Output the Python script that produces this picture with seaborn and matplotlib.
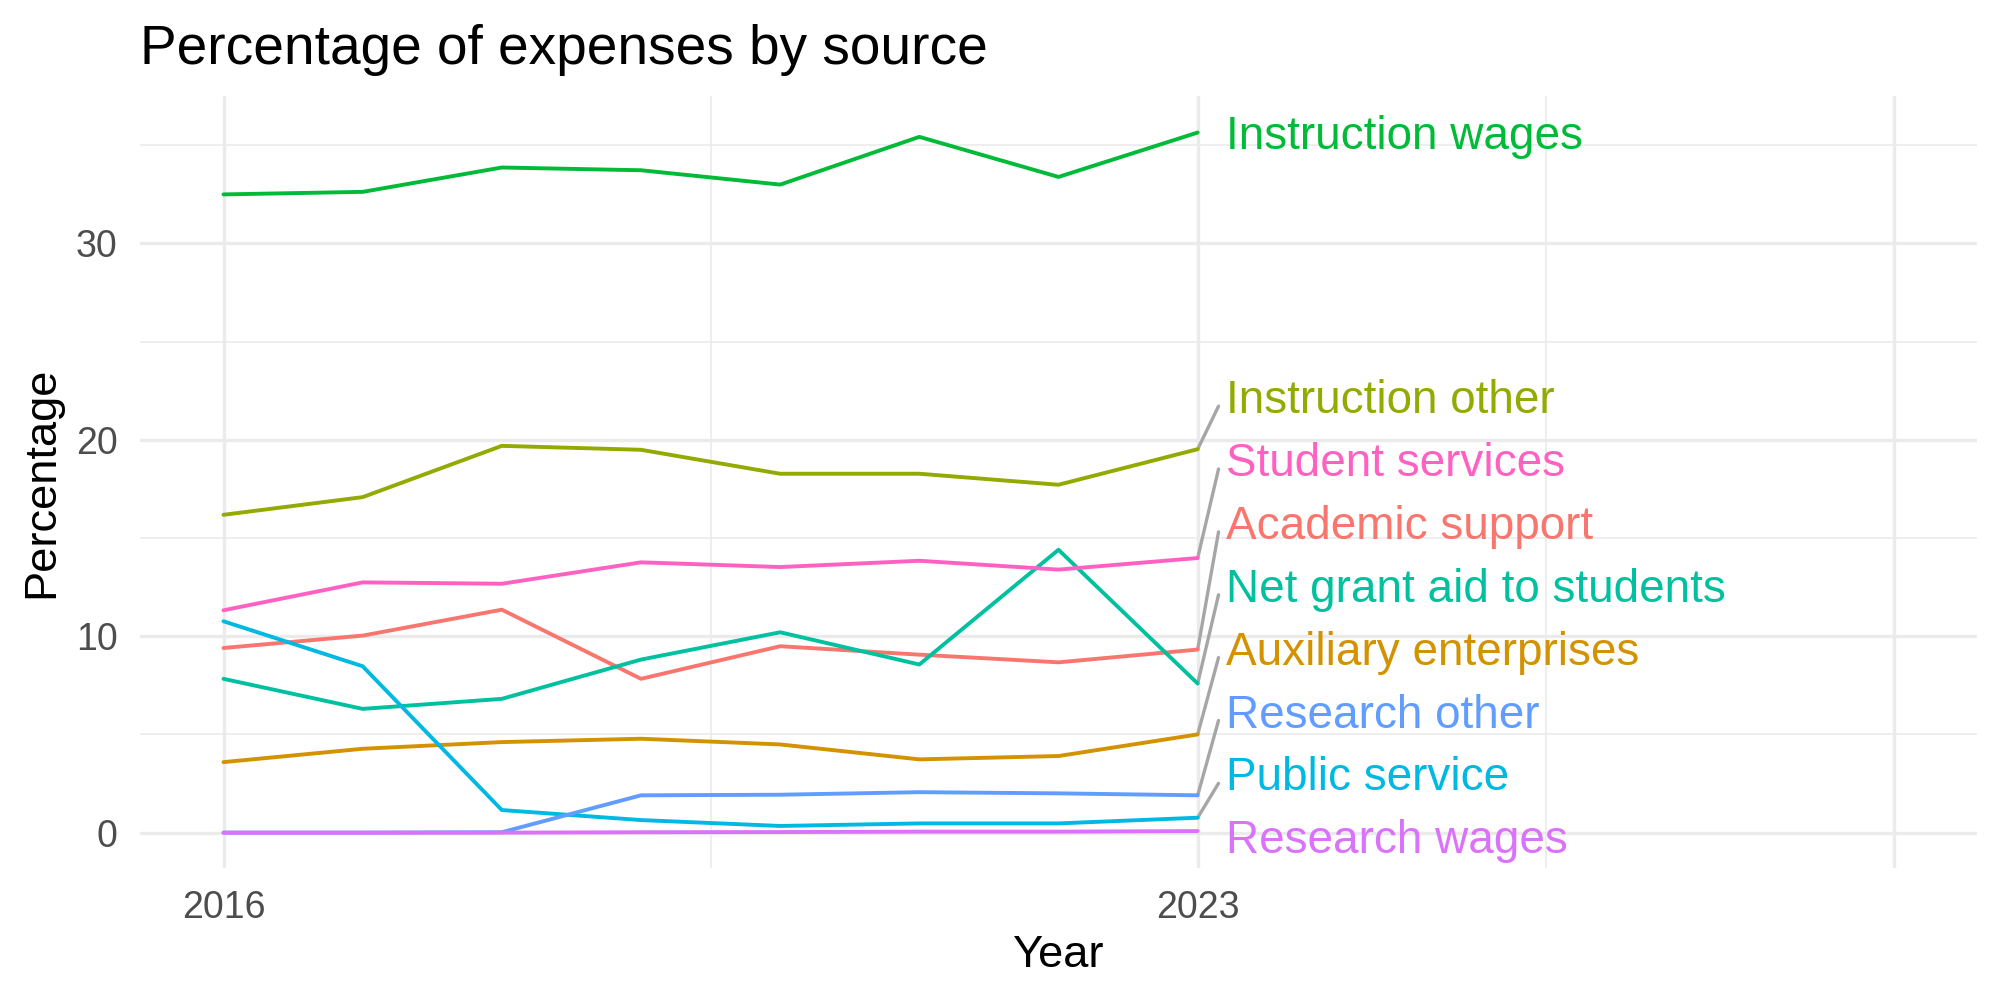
import matplotlib; matplotlib.use("Agg")
import matplotlib.pyplot as plt
import pandas as pd
import seaborn as sns

# ──────────────────────────────────────────────────────────
# Data
# ──────────────────────────────────────────────────────────
YEARS = [2016, 2017, 2018, 2019, 2020, 2021, 2022, 2023]

ACADEMIC_SUPPORT = [9.40, 10.03, 11.35, 7.83, 9.49, 9.06, 8.67, 9.32]
AUXILIARY_ENTERPRISES = [3.59, 4.27, 4.61, 4.78, 4.49, 3.73, 3.90, 5.00]
INSTRUCTION_OTHER = [16.18, 17.08, 19.69, 19.49, 18.27, 18.27, 17.71, 19.52]
INSTRUCTION_WAGES = [32.49, 32.62, 33.86, 33.72, 32.99, 35.42, 33.38, 35.64]
NET_GRANT_AID = [7.83, 6.30, 6.81, 8.81, 10.20, 8.56, 14.40, 7.59]
PUBLIC_SERVICE = [10.76, 8.47, 1.15, 0.64, 0.34, 0.47, 0.47, 0.76]
RESEARCH_OTHER = [0.00, 0.00, 0.02, 1.90, 1.93, 2.06, 2.00, 1.90]
RESEARCH_WAGES = [0.00, 0.00, 0.00, 0.02, 0.03, 0.05, 0.05, 0.08]
STUDENT_SERVICES = [11.32, 12.74, 12.67, 13.76, 13.52, 13.84, 13.39, 13.98]

SOURCES = [
    "Academic support", "Auxiliary enterprises", "Instruction other",
    "Instruction wages", "Net grant aid to students", "Public service",
    "Research other", "Research wages", "Student services",
]
SERIES = [
    ACADEMIC_SUPPORT, AUXILIARY_ENTERPRISES, INSTRUCTION_OTHER,
    INSTRUCTION_WAGES, NET_GRANT_AID, PUBLIC_SERVICE,
    RESEARCH_OTHER, RESEARCH_WAGES, STUDENT_SERVICES,
]
# ggplot2 default hue palette for 9 levels
COLORS = ["#F8766D", "#D39200", "#93AA00", "#00BA38", "#00C19F",
          "#00B9E3", "#619CFF", "#DB72FB", "#FF61C3"]
PALETTE = dict(zip(SOURCES, COLORS))

X_TICKS = [2016, 2023, 2028]
X_TICK_LABELS = ["2016", "2023", ""]
Y_TICKS = [0, 10, 20, 30]

df = pd.DataFrame([
    {"year": y, "pct": v, "source": s}
    for s, vals in zip(SOURCES, SERIES)
    for y, v in zip(YEARS, vals)
])

# ──────────────────────────────────────────────────────────
# Style
# ──────────────────────────────────────────────────────────
sns.set_theme(style="white")
plt.rcParams.update({
    "font.family": ["Liberation Sans", "DejaVu Sans"],
    "axes.unicode_minus": False,
})

fig, ax = plt.subplots(figsize=(10, 5), dpi=200)
fig.subplots_adjust(left=0.070, right=0.9885, top=0.904, bottom=0.132)

sns.lineplot(data=df, x="year", y="pct", hue="source", palette=PALETTE,
             linewidth=1.4, legend=False, ax=ax, zorder=3)

# grid like theme_minimal
ax.set_xlim(2015.4, 2028.6)
ax.set_ylim(-1.8, 37.5)
ax.set_xticks(X_TICKS)
ax.set_xticklabels(X_TICK_LABELS)
ax.set_yticks(Y_TICKS)
ax.set_xticks([2019.5, 2025.5], minor=True)
ax.set_yticks([5, 15, 25, 35], minor=True)
ax.grid(which="major", color="#EBEBEB", linewidth=1.2)
ax.grid(which="minor", color="#EBEBEB", linewidth=0.6)
ax.set_axisbelow(True)
for sp in ax.spines.values():
    sp.set_visible(False)
ax.tick_params(which="both", length=0)
ax.tick_params(axis="both", labelsize=13.5, labelcolor="#4D4D4D")
ax.tick_params(axis="x", pad=8)
ax.tick_params(axis="y", pad=8)

ax.set_xlabel("Year", fontsize=16.3, color="black", labelpad=3)
ax.set_ylabel("Percentage", fontsize=16.3, color="black", labelpad=5)
fig.text(0.070, 0.936, "Percentage of expenses by source", fontsize=19.8,
         ha="left", va="baseline", color="black")

# ── end labels, repelled vertically (bottom-up stacking)
GAP = 3.2
LOWER = -0.19
ends = sorted(((vals[-1], s) for s, vals in zip(SOURCES, SERIES)))
label_y = {}
prev = None
for val, s in ends:
    pos = LOWER if prev is None else max(val, prev + GAP)
    label_y[s] = pos
    prev = pos

x_end = YEARS[-1]
for val, s in ends:
    ly = label_y[s]
    if abs(ly - val) > 0.5:
        ax.plot([x_end, x_end + 0.15], [val, ly - 0.5],
                color="#A6A6A6", linewidth=1.2, zorder=2,
                solid_capstyle="round")
    ax.text(x_end + 0.2, ly - 0.25, s, color=PALETTE[s], fontsize=16.5,
            ha="left", va="center", zorder=4)

fig.savefig("out.png", dpi=200)
plt.close(fig)
